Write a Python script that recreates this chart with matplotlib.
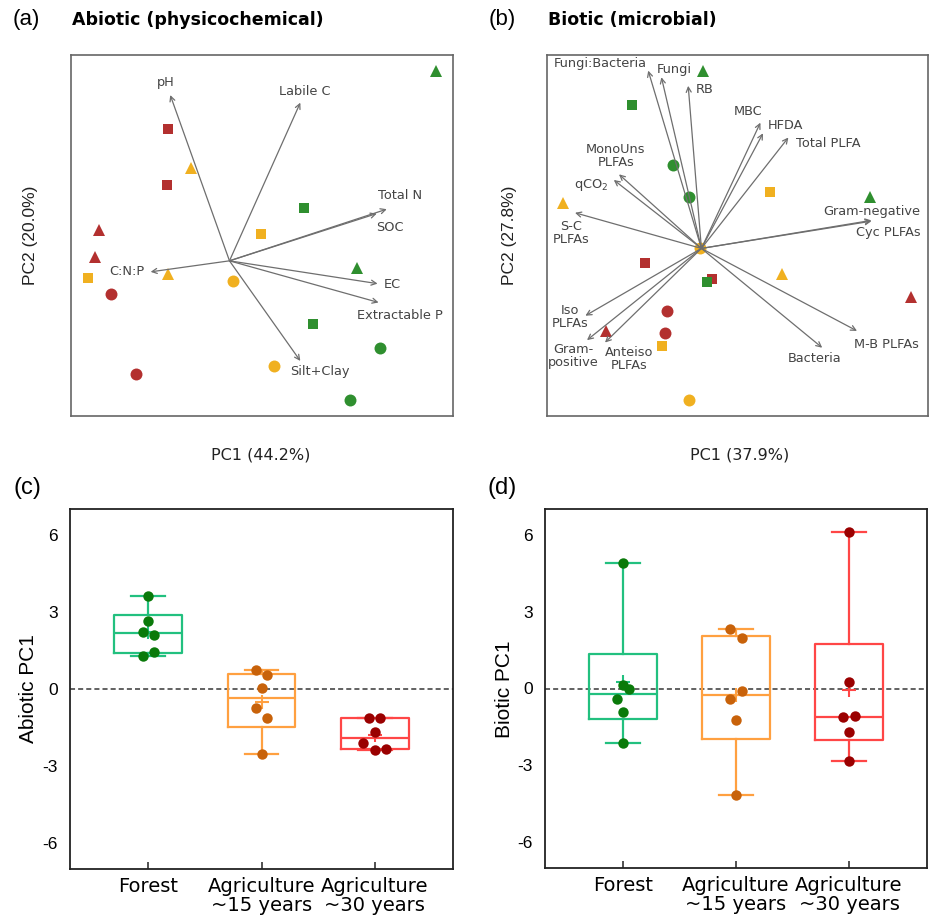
import numpy as np
import matplotlib.pyplot as plt

# sites: F = forest, A15 = agriculture ~15 yr, A30 = agriculture ~30 yr
site_labels = ['Forest', 'Agriculture\n~15 years', 'Agriculture\n~30 years']

# (a) abiotic PCA scores
abio_site = ['F', 'A30', 'A15', 'A30', 'F', 'A15', 'A30', 'A30', 'A15',
             'A15', 'F', 'A15', 'A30', 'F', 'F', 'A15', 'A30', 'F']
abio_shape = ['^', 's', '^', 's', 's', 's', '^', '^', '^',
              's', '^', 'o', 'o', 's', 'o', 'o', 'o', 'o']
abio_pc1 = [5.16, -1.54, -0.96, -1.55, 1.86, 0.79, -3.27, -3.35, -1.54,
            -3.54, 3.18, 0.10, -2.95, 2.075, 3.77, 1.11, -2.33, 3.01]
abio_pc2 = [4.75, 3.28, 2.31, 1.89, 1.33, 0.675, 0.78, 0.10, -0.33,
            -0.43, -0.17, -0.50, -0.825, -1.57, -2.175, -2.625, -2.82, -3.47]

# (a) loadings
abio_vars = ['pH', 'Labile C', 'Total N', 'SOC', 'EC', 'Extractable P', 'Silt+Clay', 'C:N:P']
abio_load1 = [-1.48, 1.77, 3.93, 3.68, 3.70, 3.725, 1.77, -1.97]
abio_load2 = [4.14, 3.95, 1.29, 1.18, -0.57, -1.04, -2.50, -0.275]
abio_lab_xy = [(-1.58, 4.45), (1.87, 4.225), (4.27, 1.625), (4.0, 0.825),
               (4.08, -0.58), (4.25, -1.375), (2.25, -2.775), (-2.57, -0.26)]

# (b) biotic PCA scores
bio_site = ['F', 'F', 'F', 'F', 'A15', 'F', 'A15', 'A15', 'A30',
            'A30', 'F', 'A15', 'A30', 'A30', 'A30', 'A30', 'A15', 'A15']
bio_shape = ['^', 's', 'o', 'o', 's', '^', '^', 'o', 's',
             's', 's', '^', '^', 'o', 'o', '^', 's', 'o']
bio_pc1 = [0.04, -1.73, -0.71, -0.30, 1.71, 4.22, -3.46, -0.025, -1.41,
           0.275, 0.14, 2.025, 5.24, -0.87, -0.91, -2.375, -0.975, -0.30]
bio_pc2 = [4.42, 3.57, 2.075, 1.29, 1.42, 1.29, 1.14, 0.017, -0.375,
           -0.775, -0.84, -0.65, -1.225, -1.56, -2.10, -2.07, -2.44, -3.79]

# (b) loadings
bio_vars = ['Fungi:Bacteria', 'Fungi', 'RB', 'MBC', 'HFDA', 'Total PLFA',
            'MonoUns\nPLFAs', 'qCO$_2$', 'S-C\nPLFAs', 'Gram-negative', 'Cyc PLFAs',
            'Iso\nPLFAs', 'Gram-\npositive', 'Anteiso\nPLFAs', 'Bacteria', 'M-B PLFAs']
bio_load1 = [-1.33, -1.0, -0.33, 1.475, 1.54, 2.175, -2.06, -2.19, -3.16,
             4.25, 4.25, -2.90, -2.86, -2.41, 3.02, 3.89]
bio_load2 = [4.44, 4.275, 4.06, 3.14, 2.875, 2.77, 1.85, 1.71, 0.89,
             0.70, 0.68, -1.68, -2.29, -2.35, -2.48, -2.06]
bio_lab_xy = [(-2.54, 4.61), (-0.67, 4.48), (0.07, 3.975), (1.17, 3.42), (2.1, 3.07),
              (3.175, 2.625), (-2.14, 2.32), (-2.75, 1.58), (-3.25, 0.39), (4.25, 0.93),
              (4.67, 0.40), (-3.29, -1.71), (-3.21, -2.68), (-1.81, -2.75), (2.84, -2.75),
              (4.625, -2.40)]

# (c) abiotic PC1 per site
abio_pc1_forest = [3.61, 2.65, 2.22, 2.10, 1.42, 1.28]
abio_pc1_agri15 = [0.75, 0.54, 0.04, -0.72, -1.12, -2.54]
abio_pc1_agri30 = [-1.12, -1.12, -1.68, -2.10, -2.39, -2.34]

# (d) biotic PC1 per site
bio_pc1_forest = [4.91, 0.15, -0.03, -0.42, -0.90, -2.12]
bio_pc1_agri15 = [2.31, 1.95, -0.09, -0.42, -1.22, -4.14]
bio_pc1_agri30 = [6.10, 0.26, -1.13, -1.07, -1.71, -2.83]

# horizontal spread of the dots
jit_c = [[0, 0, -0.05, 0.05, 0.05, -0.05], [-0.05, 0.05, 0, -0.05, 0.05, 0], [-0.05, 0.05, 0, -0.1, 0, 0.1]]
jit_d = [[0, 0, 0.055, -0.05, 0, 0], [-0.05, 0.05, 0.05, -0.05, 0, 0], [0, 0, -0.05, 0.05, 0, 0]]

pca_col = {'F': '#2f8f2f', 'A15': '#f0b020', 'A30': '#b3302f'}
msize = {'s': 7.6, 'o': 8.6, '^': 8.6}
box_col = ['#22c07f', '#ffa040', '#ff4646']
pt_col = ['#0a7a0a', '#c8620a', '#9a0000']

W, H = 930, 919
fig = plt.figure(figsize=(W / 100, H / 100), dpi=100)


def rect(l, t, r, b):
    return [l / W, 1 - b / H, (r - l) / W, (b - t) / H]


def ftext(x, y, s, **kw):
    fig.text(x / W, 1 - y / H, s, **kw)


def pca_panel(r, site, shape, x, y, names, l1, l2, lab_xy, xlim, ylim):
    ax = fig.add_axes(r)
    for s, m, a, b in zip(site, shape, x, y):
        ax.plot(a, b, marker=m, ms=msize[m], color=pca_col[s], mew=0, ls='none', zorder=2)
    for n, a, b, (tx, ty) in zip(names, l1, l2, lab_xy):
        ax.annotate('', xy=(a, b), xytext=(0, 0), zorder=3,
                    arrowprops=dict(arrowstyle='->', color='#6e6e6e', lw=0.9,
                                    shrinkA=0, shrinkB=0, mutation_scale=9))
        ax.text(tx, ty, n, ha='center', va='center', fontsize=9.3, color='#444444',
                linespacing=1.0, zorder=4)
    ax.set_xlim(xlim)
    ax.set_ylim(ylim)
    ax.set_xticks([])
    ax.set_yticks([])
    for sp in ax.spines.values():
        sp.set_color('#666666')
        sp.set_linewidth(1.2)
    return ax


def box_panel(r, groups, jits, ylab, ylab_x):
    ax = fig.add_axes(r)
    ax.axhline(0, color='#555555', lw=1.3, ls='--', dashes=(2.8, 1.7), zorder=1)
    for i, (vals, jit) in enumerate(zip(groups, jits)):
        v = np.array(vals)
        q1, q3 = np.percentile(v, [25, 75], method='weibull')
        st = dict(med=np.median(v), q1=q1, q3=q3, whislo=v.min(), whishi=v.max(),
                  mean=v.mean(), fliers=[])
        c = box_col[i]
        lp = dict(color=c, lw=1.6)
        ax.bxp([st], positions=[i + 1], widths=0.6, capwidths=0.3, showmeans=True,
               showfliers=False, boxprops=lp, whiskerprops=lp, capprops=lp, medianprops=lp,
               meanprops=dict(marker='+', markeredgecolor=c, markersize=10, mew=1.5),
               manage_ticks=False)
        ax.plot(i + 1 + np.array(jit), v, 'o', color=pt_col[i], ms=7.5, mew=0, zorder=4)
    ax.set_xlim(0.31, 3.69)
    ax.set_ylim(-7, 7)
    ax.set_yticks([-6, -3, 0, 3, 6])
    ax.set_yticklabels(['-6', '-3', '0', '3', '6'], fontsize=12.5, family='Liberation Sans')
    ax.set_xticks([1, 2, 3])
    ax.set_xticklabels(site_labels, fontsize=14, linespacing=0.95)
    ax.tick_params(axis='y', length=0, pad=9)
    ax.tick_params(axis='x', direction='in', length=5, width=1.2, color='#333333', pad=6)
    for sp in ax.spines.values():
        sp.set_color('#222222')
        sp.set_linewidth(1.3)
    ftext(ylab_x, 689, ylab, rotation=90, ha='center', va='center', fontsize=15,
          family='Liberation Sans')
    return ax


pca_panel(rect(71, 55, 453, 416), abio_site, abio_shape, abio_pc1, abio_pc2,
          abio_vars, abio_load1, abio_load2, abio_lab_xy, (-3.96, 5.585), (-3.875, 5.14))
pca_panel(rect(547, 55, 928, 416), bio_site, bio_shape, bio_pc1, bio_pc2,
          bio_vars, bio_load1, bio_load2, bio_lab_xy, (-3.86, 5.665), (-4.185, 4.83))

box_panel(rect(70, 509, 453, 869), [abio_pc1_forest, abio_pc1_agri15, abio_pc1_agri30],
          jit_c, 'Abiotic PC1', 28)
box_panel(rect(545, 509, 927, 868), [bio_pc1_forest, bio_pc1_agri15, bio_pc1_agri30],
          jit_d, 'Biotic PC1', 504)

# panel letters and titles
for x, y, s, fs in [(26, 20, '(a)', 16), (502, 20, '(b)', 16),
                    (27, 488, '(c)', 17), (502, 488, '(d)', 17)]:
    ftext(x, y, s, ha='center', va='center', fontsize=fs, family='Liberation Sans')
ftext(72, 20, 'Abiotic (physicochemical)', ha='left', va='center', fontsize=12.5, weight='bold')
ftext(548, 20, 'Biotic (microbial)', ha='left', va='center', fontsize=12.5, weight='bold')

# PCA axis titles
ftext(31, 235, 'PC2 (20.0%)', rotation=90, ha='center', va='center', fontsize=12.5,
      family='Liberation Sans', color='#222222')
ftext(509, 235, 'PC2 (27.8%)', rotation=90, ha='center', va='center', fontsize=12.5,
      family='Liberation Sans', color='#222222')
ftext(261, 455, 'PC1 (44.2%)', ha='center', va='center', fontsize=11.5, color='#222222')
ftext(740, 455, 'PC1 (37.9%)', ha='center', va='center', fontsize=11.5, color='#222222')

fig.savefig('out.png', dpi=100)
